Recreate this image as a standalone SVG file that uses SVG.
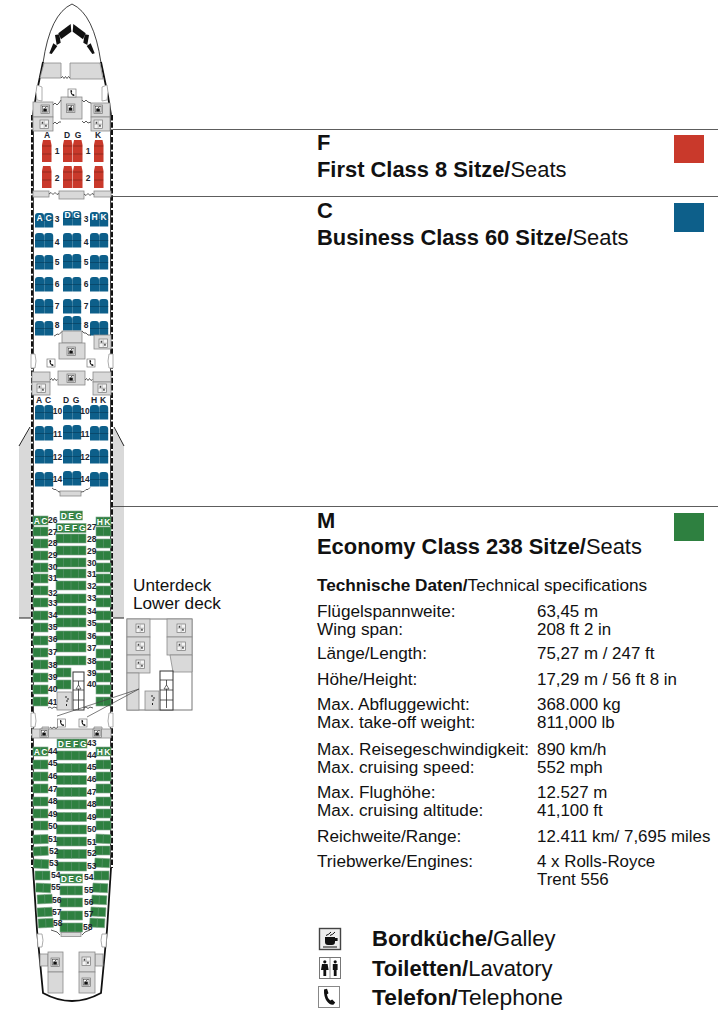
<svg xmlns="http://www.w3.org/2000/svg" width="724" height="1024" viewBox="0 0 724 1024">
<style>
text{font-family:"Liberation Sans",Arial,sans-serif;fill:#111}
.h{font-size:21.900px;font-weight:bold}
.b{font-weight:bold}
.r{font-weight:normal}
.t{font-size:17.2px}
.v{font-size:16.900px}
.l{font-size:22px;font-weight:bold}
.n{font-size:8.500px;font-weight:bold;fill:#1c2530}
.c{font-size:8.500px;font-weight:bold;text-anchor:middle;fill:#1c2530}
.w{font-size:8.500px;font-weight:bold;text-anchor:middle;fill:#fff}
.g{fill:#d9d9d9;stroke:#8a8a8a;stroke-width:.8}
.z{fill:none;stroke:#333;stroke-width:.8}
.wall{fill:none;stroke:#111;stroke-width:.8}
.win{fill:none;stroke:#111;stroke-width:2;stroke-dasharray:5.5 1.8}
.cab{fill:none;stroke:#111;stroke-width:1.8}
.door{fill:#fff;stroke:#999;stroke-width:.8}
.e{fill:#2e8040;stroke:#7fa68a;stroke-width:.6}
.ed{stroke:#5f9470;stroke-width:.6}
.wing{fill:#d9d9d9}
.lead{stroke:#444;stroke-width:.7;fill:none}
.sec{stroke:#333;stroke-width:.8}
</style>
<defs>
<g id="ic-g"><rect x=".5" y=".5" width="21" height="21" fill="#eee" stroke="#444" stroke-width="1.4"/><path d="M6 9h10v5q0 3-3 3H9q-3 0-3-3zM16 10h2.600v3H16zM4 18.600h14v1H4z" fill="#111"/><path d="M7 7.500q3-1 5-3.500M11 7.500q3-1 5-3.500" fill="none" stroke="#111" stroke-width="1"/></g>
<g id="ic-l"><rect x=".5" y=".5" width="21" height="21" fill="#fff" stroke="#777"/><path d="M11 .5v21" stroke="#777" stroke-width=".8"/><g fill="#111"><circle cx="5.800" cy="4.800" r="1.600"/><path d="M3 7h5.600l1 6H7.200v6H4.400v-6H2z"/><circle cx="16.200" cy="4.800" r="1.600"/><path d="M13.800 7h4.800v6h-1v6h-2.800v-6h-1z"/></g></g>
<g id="ic-p"><rect x=".5" y=".5" width="21" height="21" fill="#fff" stroke="#888"/><path d="M6 3.500l3-.8 1.500 4.500-1.600 1.300q.3 3 3.300 6l2-1 3 3-1.500 2q-4 .8-7-3.500T6 3.500z" fill="#111"/></g>
<g id="s-g"><rect width="8.400" height="8.400" fill="#ddd" stroke="#777" stroke-width=".7"/><rect x="1.400" y="1.400" width="5.600" height="5.600" fill="#fff" stroke="#333" stroke-width=".5"/><path d="M2.300 3.600h3.500v3H2.300z" fill="#111"/><path d="M3.500 3.600L5.500 1.800" stroke="#111" stroke-width=".8"/></g>
<g id="s-l"><rect width="8.400" height="8.400" fill="#f4f4f4" stroke="#777" stroke-width=".7"/><path d="M4.200 .5v7.400M.5 4.200h7.400" stroke="#888" stroke-width=".5"/><path d="M1.700 1.700h1.500v2H1.700zM5.200 4.700h1.500v2H5.200z" fill="#444"/></g>
<g id="s-p"><rect width="8" height="8" fill="#fff" stroke="#777" stroke-width=".7"/><path d="M2.400 1.300l1.200-.3.600 1.700-.6.500q.1 1.100 1.200 2.200l.7-.4 1.100 1.100-.5.800q-1.500.3-2.600-1.300T2.400 1.300z" fill="#111"/></g>
<g id="sf"><path d="M1 0H8.500L9.500 5V22H0V5Z" fill="#c9392b"/><path d="M.3 6H9.200M.3 14H9.200" stroke="#7d2318" stroke-width=".7"/></g>
<g id="sb"><path d="M0 3Q0 0 3 0H6Q9 0 9 3V14.500H0Z" fill="#0d5f8a"/><path d="M0 7.500H9" stroke="#08405f" stroke-width=".7"/></g>
<g id="b2"><use href="#sb"/><use href="#sb" x="9.200"/></g>
<g id="e2"><rect width="15" height="9" class="e"/><path d="M7.500 0v9" class="ed"/></g>
<g id="e3"><rect width="22.500" height="9" class="e"/><path d="M7.500 0v9M15 0v9" class="ed"/></g>
<g id="e4"><rect width="30" height="9" class="e"/><path d="M7.500 0v9M15 0v9M22.500 0v9" class="ed"/></g>
</defs>

<g id="wings">
<path class="wing" d="M19 446L31 427V618H19Z"/><path class="wing" d="M113 427L124 446V618H113Z"/>
<path d="M19 446L30 427M114 427L124 446" stroke="#222" fill="none"/>
<path d="M19 618H31M113 618H124" stroke="#222" fill="none"/>
</g>

<g id="fuselage">
<path class="wall" d="M43 63Q50 14 72 4Q94 14 101 63"/>
<path class="cab" d="M43 62L36 96L33 115M101 62L108 96L111 115"/>
<path class="wall" d="M33.500 115V870M110.500 115V870"/>
<path class="win" d="M32 115V868M112 115V868"/>
<path class="cab" d="M33 868L37 930L43 993Q72 1009 101 993L107 930L111 868"/>
<path class="door" d="M37 85L42 87V101L37 100Q35 92 37 85ZM107 85L102 87V101L107 100Q109 92 107 85Z"/>
<path class="door" d="M31 354H35Q37 361 35 368H31ZM113 354H109Q107 361 109 368H113Z"/>
<path class="door" d="M31 713H35Q37 722 35 727H31ZM113 713H109Q107 722 109 727H113Z"/>
<path class="door" d="M37 934L42 934Q44 940 42 947L38 947ZM107 934L102 934Q100 940 102 947L106 947Z"/>
</g>

<g id="cockpit" fill="#111">
<path d="M58.300 33.300L70.700 24L71.300 31.700L61 39.300Z"/><path d="M85.700 33.300L73.300 24L72.700 31.700L83 39.300Z"/>
<path d="M55 35L59.300 34.300L60.700 42.700L56.700 45Z"/><path d="M89 35L84.700 34.300L83.300 42.700L87.300 45Z"/>
<path d="M49.300 53.300L53.300 43.300L57.300 46L51.700 54Z"/><path d="M94.700 53.300L90.700 43.300L86.700 46L92.300 54Z"/>
</g>

<g id="front-galley">
<path class="g" d="M44 63H61V78H40Z"/><path class="g" d="M70 63H100L103 79H70Z"/>
<path class="z" d="M61 78l1.500-1.500 1.500 2 1.500-2 1.500 2 1.500-2 1.500 1.500"/>
<rect class="g" x="61" y="97" width="21" height="22"/>
<rect class="g" x="33" y="102" width="20" height="15"/><rect class="g" x="33" y="117" width="20" height="14"/>
<rect class="g" x="91" y="103" width="19" height="14"/><rect class="g" x="91" y="117" width="19" height="14"/>
<path class="z" d="M53 105l2-2 2 2 2-2 2-3M53 124l2-2 2 2 2-2 2 0M82 100l2 2 2-2 2 2 3 1M82 121l2 2 2-2 2 2 3-1"/>
<use href="#s-p" x="68" y="89"/>
<use href="#s-g" x="66.500" y="104"/><use href="#s-g" x="41" y="105"/><use href="#s-l" x="40" y="120"/><use href="#s-g" x="94" y="105"/><use href="#s-l" x="94" y="120"/>
</g>

<g id="first-class">
<use href="#sf" x="42" y="140"/><use href="#sf" x="63" y="140"/><use href="#sf" x="73" y="140"/><use href="#sf" x="94" y="140"/>
<use href="#sf" x="42" y="166"/><use href="#sf" x="63" y="166"/><use href="#sf" x="73" y="166"/><use href="#sf" x="94" y="166"/>
<text class="c" x="47" y="138">A</text><text class="c" x="67" y="138">D</text><text class="c" x="78" y="138">G</text><text class="c" x="98" y="138">K</text>
<text class="c" x="57" y="154">1</text><text class="c" x="88" y="154">1</text><text class="c" x="57" y="181">2</text><text class="c" x="88" y="181">2</text>
<rect class="g" x="33" y="191" width="16" height="6"/><rect class="g" x="59" y="191" width="25" height="8"/><rect class="g" x="94" y="191" width="17" height="6"/>
<path class="z" d="M49 194l2-1.500 2 2 2-2 2 2 2-1M84 194l2 1.500 2-2 2 2 2-2 2 1"/>
</g>

<g id="business-front">
<use href="#b2" x="35" y="213"/><use href="#b2" x="63" y="211"/><use href="#b2" x="90" y="212"/>
<use href="#b2" x="35" y="233"/><use href="#b2" x="63" y="233"/><use href="#b2" x="90" y="233"/>
<use href="#b2" x="35" y="255"/><use href="#b2" x="63" y="254"/><use href="#b2" x="90" y="255"/>
<use href="#b2" x="35" y="277"/><use href="#b2" x="63" y="277"/><use href="#b2" x="90" y="277"/>
<use href="#b2" x="35" y="299"/><use href="#b2" x="63" y="299"/><use href="#b2" x="90" y="299"/>
<use href="#b2" x="35" y="321"/><use href="#b2" x="63" y="316"/><use href="#b2" x="90" y="321"/>
<text class="w" x="39.500" y="221">A</text><text class="w" x="48.500" y="221">C</text><text class="w" x="67.500" y="218">D</text><text class="w" x="76.500" y="218">G</text><text class="w" x="94.500" y="220">H</text><text class="w" x="103.500" y="220">K</text>
<text class="c" x="57" y="222">3</text><text class="c" x="86" y="222">3</text><text class="c" x="57" y="245">4</text><text class="c" x="86" y="245">4</text><text class="c" x="57" y="265">5</text><text class="c" x="86" y="265">5</text><text class="c" x="57" y="287">6</text><text class="c" x="86" y="287">6</text><text class="c" x="57" y="309">7</text><text class="c" x="86" y="309">7</text><text class="c" x="57" y="328">8</text><text class="c" x="86" y="328">8</text>
</g>

<g id="mid-galley">
<rect class="g" x="62" y="331" width="20" height="12"/><rect class="g" x="59" y="343" width="26" height="16"/>
<rect class="g" x="94" y="335" width="17" height="14"/>
<path class="z" d="M54 336l2-1 1-1 2 .5 3-3M82 331l2 2 2 0 2 2 3 0"/>
<use href="#s-g" x="67" y="347"/><use href="#s-l" x="99" y="339"/>
<use href="#s-p" x="47" y="359"/><use href="#s-p" x="87" y="359"/>
<rect class="g" x="32" y="372" width="18" height="10"/><rect class="g" x="32" y="382" width="18" height="13"/>
<rect class="g" x="58" y="371" width="27" height="14"/>
<rect class="g" x="93" y="372" width="18" height="10"/><rect class="g" x="93" y="382" width="18" height="13"/>
<path class="z" d="M50 380l1.500-1.500 1.500 2 1.500-2 1.500 2 1.500-1M85 380l1.500-1.500 1.500 2 1.500-2 1.500 2 1.500-1"/>
<use href="#s-g" x="67" y="374"/><use href="#s-l" x="37" y="384"/><use href="#s-l" x="98" y="384"/>
</g>

<g id="business-rear">
<use href="#b2" x="35" y="405"/><use href="#b2" x="63" y="405"/><use href="#b2" x="90" y="405"/>
<use href="#b2" x="35" y="426"/><use href="#b2" x="63" y="425"/><use href="#b2" x="90" y="426"/>
<use href="#b2" x="35" y="449"/><use href="#b2" x="63" y="449"/><use href="#b2" x="90" y="449"/>
<use href="#b2" x="35" y="472"/><use href="#b2" x="63" y="471"/><use href="#b2" x="90" y="472"/>
<text class="c" x="39" y="403">A</text><text class="c" x="48" y="403">C</text><text class="c" x="66" y="403">D</text><text class="c" x="76" y="403">G</text><text class="c" x="94" y="403">H</text><text class="c" x="103" y="403">K</text>
<text class="c" x="57.500" y="414">10</text><text class="c" x="85" y="414">10</text><text class="c" x="57.500" y="437">11</text><text class="c" x="85" y="437">11</text><text class="c" x="57.500" y="460">12</text><text class="c" x="85" y="460">12</text><text class="c" x="57.500" y="482">14</text><text class="c" x="85" y="482">14</text>
<rect class="g" x="60" y="491" width="21" height="5"/>
<path class="z" d="M52 488l2 1.500 2 0 2 2 2 .5M81 492l3-.5 2-2 2 0 2-2"/>
</g>

<g id="economy-front">
<use href="#e3" x="60" y="511"/><text class="w" x="63.800" y="518.500">D</text><text class="w" x="71.200" y="518.500">E</text><text class="w" x="78.700" y="518.500">G</text>
<use href="#e2" x="33" y="516"/><text class="w" x="36.800" y="523.500">A</text><text class="w" x="44.200" y="523.500">C</text>
<use href="#e2" x="96" y="517"/><text class="w" x="99.700" y="524.500">H</text><text class="w" x="107.200" y="524.500">K</text>
<use href="#e4" x="56" y="523.500"/><text class="w" x="59.800" y="531">D</text><text class="w" x="67.200" y="531">E</text><text class="w" x="74.700" y="531">F</text><text class="w" x="82.200" y="531">G</text>
<use href="#e2" x="33" y="527"/><use href="#e2" x="33" y="539"/><use href="#e2" x="33" y="551"/><use href="#e2" x="33" y="563"/><use href="#e2" x="33" y="574"/><use href="#e2" x="33" y="586"/><use href="#e2" x="33" y="598"/><use href="#e2" x="33" y="611"/><use href="#e2" x="33" y="623"/><use href="#e2" x="33" y="636"/><use href="#e2" x="33" y="648"/><use href="#e2" x="33" y="660"/><use href="#e2" x="33" y="673"/><use href="#e2" x="33" y="685"/><use href="#e2" x="33" y="697"/>
<use href="#e2" x="96" y="527"/><use href="#e2" x="96" y="539"/><use href="#e2" x="96" y="551"/><use href="#e2" x="96" y="563"/><use href="#e2" x="96" y="574"/><use href="#e2" x="96" y="586"/><use href="#e2" x="96" y="598"/><use href="#e2" x="96" y="611"/><use href="#e2" x="96" y="623"/><use href="#e2" x="96" y="636"/><use href="#e2" x="96" y="649"/><use href="#e2" x="96" y="661"/><use href="#e2" x="96" y="673"/><use href="#e2" x="96" y="685"/><use href="#e2" x="96" y="697"/>
<use href="#e4" x="56" y="534"/><use href="#e4" x="56" y="546"/><use href="#e4" x="56" y="558"/><use href="#e4" x="56" y="569"/><use href="#e4" x="56" y="581"/><use href="#e4" x="56" y="594"/><use href="#e4" x="56" y="606"/><use href="#e4" x="56" y="618"/><use href="#e4" x="56" y="631"/><use href="#e4" x="56" y="643"/><use href="#e4" x="56" y="656"/>
<use href="#e2" x="56" y="668"/><use href="#e2" x="56" y="680"/>
<text class="n" x="48" y="523">26</text><text class="n" x="48" y="535">27</text><text class="n" x="48" y="546">28</text><text class="n" x="48" y="558">29</text><text class="n" x="48" y="570">30</text><text class="n" x="48" y="581">31</text><text class="n" x="48" y="596">32</text><text class="n" x="48" y="606">33</text><text class="n" x="48" y="618">34</text><text class="n" x="48" y="630">35</text><text class="n" x="48" y="642">36</text><text class="n" x="48" y="655">37</text><text class="n" x="48" y="668">38</text><text class="n" x="48" y="680">39</text><text class="n" x="48" y="692">40</text><text class="n" x="48" y="705">41</text>
<text class="n" x="87" y="530">27</text><text class="n" x="87" y="542">28</text><text class="n" x="87" y="554">29</text><text class="n" x="87" y="566">30</text><text class="n" x="87" y="577">31</text><text class="n" x="87" y="589">32</text><text class="n" x="87" y="601">33</text><text class="n" x="87" y="614">34</text><text class="n" x="87" y="626">35</text><text class="n" x="87" y="639">36</text><text class="n" x="87" y="651">37</text><text class="n" x="87" y="664">38</text><text class="n" x="87" y="676">39</text><text class="n" x="87" y="687">40</text>
</g>

<g id="mid-stair">
<rect x="73" y="672" width="11" height="38" fill="#fff" stroke="#333"/>
<path d="M73 681H84M73 690H84M73 700H84M78.500 681V710" stroke="#333" fill="none" stroke-width=".8"/><path d="M76 689L78.500 685 81 689Z" fill="#fff" stroke="#333" stroke-width=".7"/>
<rect class="g" x="57" y="692" width="15" height="18"/><path d="M66 696v2M67 700v2M66.500 704v2M68 698v2" stroke="#222"/>
<path class="z" d="M48 708l2-1 2 1.500 2-1.500 3 1M84 708l2-1 2 1.500 2-1.500 3 1"/>
<path class="g" d="M32 729H42V727H49V729H94V727H102V729H111V738H32Z"/>
<path class="z" d="M50 727l2 1.500 2-1.500 2 1.500 2-1.500"/>
<use href="#s-p" x="57.500" y="719"/><use href="#s-p" x="79" y="719"/>
<use href="#s-g" x="40" y="729"/><use href="#s-g" x="93" y="729"/>
</g>

<g id="economy-rear">
<use href="#e4" x="57" y="739"/><text class="w" x="60.700" y="746.500">D</text><text class="w" x="68.200" y="746.500">E</text><text class="w" x="75.700" y="746.500">F</text><text class="w" x="83.200" y="746.500">G</text>
<use href="#e2" x="33" y="747"/><text class="w" x="36.800" y="754.500">A</text><text class="w" x="44.200" y="754.500">C</text>
<use href="#e2" x="96" y="747"/><text class="w" x="99.700" y="754.500">H</text><text class="w" x="107.200" y="754.500">K</text>
<use href="#e2" x="33" y="760"/><use href="#e2" x="33" y="772"/><use href="#e2" x="33" y="784"/><use href="#e2" x="33" y="797"/><use href="#e2" x="33" y="809"/><use href="#e2" x="33" y="821"/>
<use href="#e2" transform="translate(33,835) rotate(-2)"/><use href="#e2" transform="translate(33,847) rotate(-3)"/><use href="#e2" transform="translate(34,859) rotate(3)"/><use href="#e2" transform="translate(35,871)"/><use href="#e2" transform="translate(36,883) rotate(3)"/><use href="#e2" transform="translate(37,895) rotate(-3)"/><use href="#e2" transform="translate(37,908) rotate(-3)"/><use href="#e2" transform="translate(38,919) rotate(-3)"/>
<use href="#e2" x="96" y="760"/><use href="#e2" x="96" y="772"/><use href="#e2" x="96" y="784"/><use href="#e2" x="96" y="797"/><use href="#e2" x="96" y="809"/><use href="#e2" x="96" y="821"/>
<use href="#e2" transform="translate(96,834) rotate(3)"/><use href="#e2" transform="translate(95,846)"/><use href="#e2" transform="translate(95,858) rotate(3)"/><use href="#e2" transform="translate(94,871)"/><use href="#e2" transform="translate(93,883) rotate(3)"/><use href="#e2" transform="translate(92,895) rotate(3)"/><use href="#e2" transform="translate(91,907) rotate(3)"/><use href="#e2" transform="translate(90,918) rotate(3)"/>
<use href="#e4" x="56.500" y="751"/><use href="#e4" x="56.500" y="763.500"/><use href="#e4" x="56.500" y="775.500"/><use href="#e4" x="56.500" y="787.500"/><use href="#e4" x="56.500" y="800"/><use href="#e4" x="56.500" y="812.500"/><use href="#e4" x="56.500" y="825"/><use href="#e4" x="56.500" y="837"/><use href="#e4" x="56.500" y="849.500"/><use href="#e4" x="56.500" y="862"/>
<use href="#e3" x="60" y="874"/><text class="w" x="63.700" y="881.500">D</text><text class="w" x="71.200" y="881.500">E</text><text class="w" x="78.700" y="881.500">G</text>
<use href="#e3" x="60" y="886"/><use href="#e3" x="60" y="898"/><use href="#e3" x="60" y="911"/><use href="#e3" x="60" y="923"/>
<rect class="g" x="61" y="932.500" width="20" height="4"/>
<path d="M51 930l6 2 3 3M82 935l3-3 5-2" class="z"/>
<text class="n" x="87" y="746">43</text><text class="n" x="48" y="754">44</text><text class="n" x="87" y="758">44</text><text class="n" x="48" y="766">45</text><text class="n" x="87" y="770">45</text><text class="n" x="48" y="779">46</text><text class="n" x="87" y="782">46</text><text class="n" x="48" y="792">47</text><text class="n" x="87" y="795">47</text><text class="n" x="48" y="804">48</text><text class="n" x="87" y="807">48</text><text class="n" x="48" y="817">49</text><text class="n" x="87" y="820">49</text><text class="n" x="48" y="829">50</text><text class="n" x="87" y="832">50</text>
<text class="n" x="48" y="842">51</text><text class="n" x="87" y="845">51</text><text class="n" x="49" y="854">52</text><text class="n" x="87" y="856">52</text><text class="n" x="49" y="866">53</text><text class="n" x="87" y="869">53</text><text class="n" x="51" y="878">54</text><text class="n" x="84" y="880">54</text><text class="n" x="51" y="890">55</text><text class="n" x="84" y="893">55</text><text class="n" x="52" y="903">56</text><text class="n" x="84" y="905">56</text><text class="n" x="52" y="915">57</text><text class="n" x="84" y="917">57</text><text class="n" x="53" y="926">58</text><text class="n" x="83" y="930">58</text>
</g>

<g id="rear-galley">
<rect class="g" x="40" y="954" width="8" height="12"/><rect class="g" x="48" y="952" width="15" height="20"/><rect class="g" x="48" y="972" width="15" height="21"/>
<rect class="g" x="95" y="954" width="8" height="12"/><rect class="g" x="79" y="952" width="16" height="20"/><rect class="g" x="79" y="972" width="16" height="21"/>
<use href="#s-g" x="51" y="958"/><use href="#s-l" x="82" y="957"/><use href="#s-g" x="82" y="978"/>
</g>

<g id="lower-deck">
<rect x="127" y="619" width="65" height="91" fill="#fff" stroke="#777"/>
<rect class="g" x="127" y="619" width="23" height="18"/><rect class="g" x="127" y="637" width="23" height="18"/><rect class="g" x="127" y="655" width="23" height="18"/>
<rect class="g" x="167" y="619" width="25" height="18"/><rect class="g" x="167" y="637" width="25" height="18"/>
<path class="g" d="M170 655H192V672H173Z"/><rect class="g" x="127" y="673" width="12" height="37"/>
<rect x="160" y="671" width="13" height="39" fill="#fff" stroke="#333"/>
<path d="M160 680H173M160 690H173M160 700H173M166.500 680V708" stroke="#333" fill="none" stroke-width=".8"/><path d="M164 689L166.500 685 169 689Z" fill="#fff" stroke="#333" stroke-width=".7"/>
<rect class="g" x="145" y="691" width="14" height="19"/><path d="M152 695v2M153 699v2M152.500 703v2M154 697v2" stroke="#222"/>
<use href="#s-l" x="136" y="624"/><use href="#s-l" x="136" y="642"/><use href="#s-l" x="136" y="660"/><use href="#s-l" x="177" y="624"/><use href="#s-l" x="177" y="642"/>
<text class="t" x="133" y="591">Unterdeck</text><text class="t" x="133" y="609">Lower deck</text>
</g>

<g id="connectors">
<path class="sec" d="M113 129.500H718M112 196.500H718M113 506.500H718"/>
<path class="lead" d="M139 689L57 716M139 689L87 717"/>
</g>

<g id="class-f"><text class="h" x="317" y="150">F</text><text class="h" x="317" y="177">First Class 8 Sitze/<tspan class="r">Seats</tspan></text><rect x="674" y="135" width="30" height="28" fill="#c9392b"/></g>
<g id="class-c"><text class="h" x="317" y="218">C</text><text class="h" x="317" y="245">Business Class 60 Sitze/<tspan class="r">Seats</tspan></text><rect x="674" y="203" width="30" height="29" fill="#0d5f8a"/></g>
<g id="class-m"><text class="h" x="317" y="528">M</text><text class="h" x="317" y="554">Economy Class 238 Sitze/<tspan class="r">Seats</tspan></text><rect x="674" y="513" width="30" height="28" fill="#2e8040"/></g>

<g id="specs">
<text class="t" x="317" y="591"><tspan class="b">Technische Daten/</tspan>Technical specifications</text>
<text class="t" x="317" y="616.500">Flügelspannweite:</text><text class="t" x="317" y="634.500">Wing span:</text><text class="v" x="537" y="616.500">63,45 m</text><text class="v" x="537" y="634.500">208 ft 2 in</text>
<text class="t" x="317" y="659">Länge/Length:</text><text class="v" x="537" y="659">75,27 m / 247 ft</text>
<text class="t" x="317" y="685">Höhe/Height:</text><text class="v" x="537" y="685">17,29 m / 56 ft 8 in</text>
<text class="t" x="317" y="710">Max. Abfluggewicht:</text><text class="t" x="317" y="728">Max. take-off weight:</text><text class="v" x="537" y="710">368.000 kg</text><text class="v" x="537" y="728">811,000 lb</text>
<text class="t" x="317" y="755">Max. Reisegeschwindigkeit:</text><text class="t" x="317" y="773">Max. cruising speed:</text><text class="v" x="537" y="755">890 km/h</text><text class="v" x="537" y="773">552 mph</text>
<text class="t" x="317" y="798">Max. Flughöhe:</text><text class="t" x="317" y="816">Max. cruising altitude:</text><text class="v" x="537" y="798">12.527 m</text><text class="v" x="537" y="816">41,100 ft</text>
<text class="t" x="317" y="842">Reichweite/Range:</text><text class="v" x="537" y="842">12.411 km/ 7,695 miles</text>
<text class="t" x="317" y="867">Triebwerke/Engines:</text><text class="v" x="537" y="867">4 x Rolls-Royce</text><text class="v" x="537" y="885">Trent 556</text>
</g>

<g id="legend">
<use href="#ic-g" x="319" y="928"/><text class="l" x="372" y="946">Bordküche/<tspan class="r">Galley</tspan></text>
<use href="#ic-l" x="319" y="957"/><text class="l" x="372" y="976">Toiletten/<tspan class="r">Lavatory</tspan></text>
<use href="#ic-p" x="318" y="986"/><text class="l" x="372" y="1005" style="font-size:22.800px">Telefon/<tspan class="r">Telephone</tspan></text>
</g>
</svg>
